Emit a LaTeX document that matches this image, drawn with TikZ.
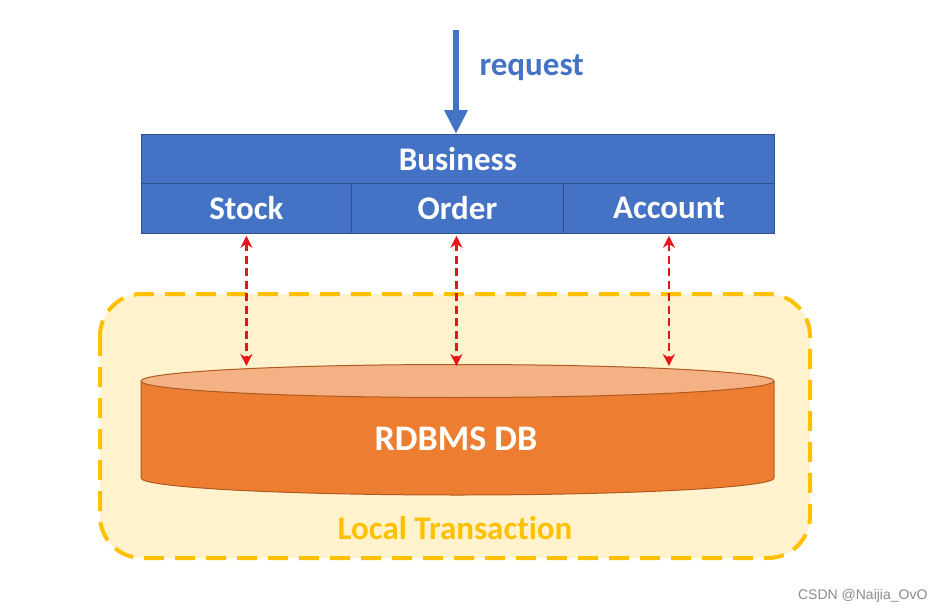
\documentclass[tikz,border=0pt]{standalone}
\usepackage{fontspec}
\setmainfont{Carlito}[Ligatures={NoCommon}]
\newfontfamily\wmfont{Liberation Sans}
\usetikzlibrary{arrows.meta,shapes.geometric}
\definecolor{bizblue}{HTML}{4472C4}
\definecolor{bizedge}{HTML}{2F528F}
\definecolor{ltfill}{HTML}{FFF2CC}
\definecolor{ltedge}{HTML}{FFC000}
\definecolor{dbbody}{HTML}{ED7D31}
\definecolor{dbtopc}{HTML}{F4B183}
\definecolor{dbedge}{HTML}{AE5A21}
\definecolor{reqred}{HTML}{E8141B}
\tikzset{
  cell/.style={draw=bizedge, line width=0.8pt, fill=bizblue, text=white, font=\fontsize{33}{36}\selectfont\bfseries, inner sep=0pt, anchor=north west},
  redlink/.style={draw=reqred, line width=2.8pt, dash pattern=on 8pt off 4.5pt, {Stealth[length=12pt,width=12pt]}-{Stealth[length=12pt,width=12pt]}},
}
\begin{document}
\begin{tikzpicture}[x=1pt,y=-1pt]
\useasboundingbox (0,0) rectangle (943,613);
\fill[white] (0,0) rectangle (943,613);
% local transaction area
\draw[ltedge, fill=ltfill, line width=4pt, dash pattern=on 20pt off 11pt, rounded corners=42pt] (100,294) rectangle (810,558);
\node[text=ltedge, font=\fontsize{33}{36}\selectfont\bfseries] (lt) at (455,528) {Local Transaction};
% business
\node[cell, minimum width=633pt, minimum height=49pt] (biz) at (141,134) {Business};
\node[cell, minimum width=210pt, minimum height=50pt] (stock) at (141,183) {Stock};
\node[cell, minimum width=212pt, minimum height=50pt] (order) at (351,183) {Order};
\node[cell, minimum width=211pt, minimum height=50pt] (account) at (563,183) {Account};
% request
\coordinate (reqstart) at (456,30);
\draw[bizblue, line width=6pt, -{Triangle[width=22pt,length=24pt]}] (reqstart) -- (biz.north -| reqstart);
\node[text=bizblue, font=\fontsize{33}{36}\selectfont\bfseries, anchor=west] (req) at (476,68) {request};
% database cylinder
\fill[dbbody] (141,381) rectangle (774,478);
\fill[dbbody] (457.5,478) ellipse[x radius=316.5, y radius=17];
\draw[dbedge, line width=1pt] (141,381) -- (141,478) arc[start angle=180, end angle=0, x radius=316.5, y radius=17] -- (774,381);
\node[ellipse, draw=dbedge, line width=1pt, fill=dbtopc, minimum width=633pt, minimum height=33pt, inner sep=0pt] (dbtop) at (457.5,381) {};
\node[text=white, font=\fontsize{36}{40}\selectfont\bfseries] (db) at (456,439) {RDBMS DB};
% red links
\draw[redlink] ([yshift=-2pt]stock.south) -- ([yshift=-2pt]stock.south |- dbtop.north);
\draw[redlink] ([xshift=-1pt,yshift=-2pt]order.south) -- ([xshift=-1pt,yshift=-2pt]order.south |- dbtop.north);
\draw[redlink] ([yshift=-2pt]account.south) -- ([yshift=-2pt]account.south |- dbtop.north);
% watermark
\node[text=black!45, font=\wmfont\fontsize{14}{16}\selectfont, anchor=east] (wm) at (931,596) {CSDN @Naijia\_OvO};
\end{tikzpicture}
\end{document}
